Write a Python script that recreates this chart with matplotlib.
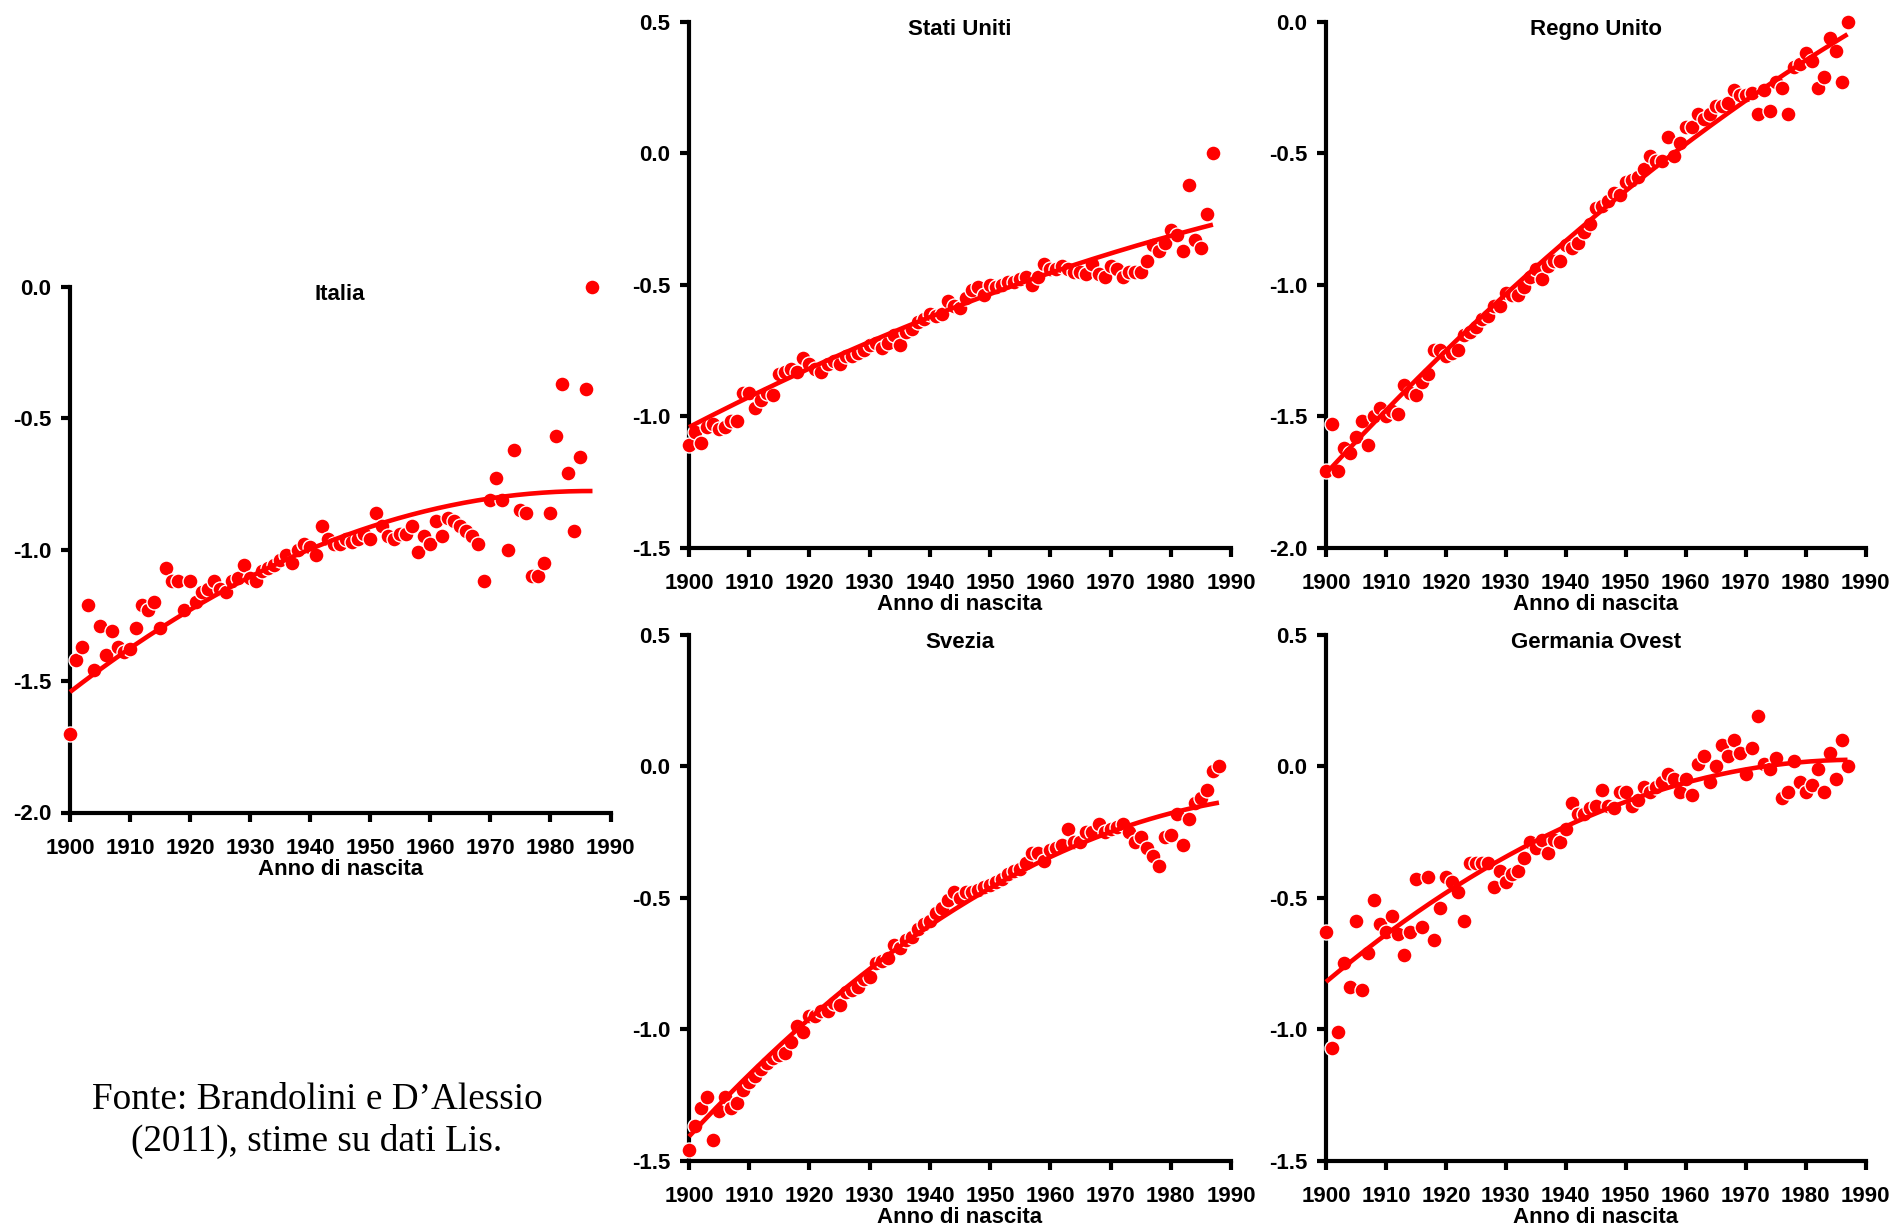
import numpy as np
import matplotlib
matplotlib.use("Agg")
import matplotlib.pyplot as plt
from matplotlib.ticker import FormatStrFormatter

plt.rcParams['font.family'] = ['Liberation Sans', 'DejaVu Sans']
plt.rcParams['font.weight'] = 'bold'
plt.rcParams['axes.unicode_minus'] = False

RED = '#ff0000'

# log-scale cohort estimates, one value per birth year
italia_years = np.arange(1900, 1988)
italia_vals = [
    -1.70, -1.42, -1.37, -1.21, -1.46, -1.29, -1.40, -1.31, -1.37, -1.39,
    -1.38, -1.30, -1.21, -1.23, -1.20, -1.30, -1.07, -1.12, -1.12, -1.23,
    -1.12, -1.20, -1.16, -1.15, -1.12, -1.15, -1.16, -1.12, -1.11, -1.06,
    -1.11, -1.12, -1.08, -1.07, -1.06, -1.04, -1.02, -1.05, -1.00, -0.98,
    -0.99, -1.02, -0.91, -0.96, -0.98, -0.98, -0.96, -0.97, -0.96, -0.94,
    -0.96, -0.86, -0.91, -0.95, -0.96, -0.94, -0.94, -0.91, -1.01, -0.95,
    -0.98, -0.89, -0.95, -0.88, -0.89, -0.91, -0.93, -0.95, -0.98, -1.12,
    -0.81, -0.73, -0.81, -1.00, -0.62, -0.85, -0.86, -1.10, -1.10, -1.05,
    -0.86, -0.57, -0.37, -0.71, -0.93, -0.65, -0.39, 0.00,
]

usa_years = np.arange(1900, 1988)
usa_vals = [
    -1.11, -1.06, -1.10, -1.04, -1.03, -1.05, -1.04, -1.02, -1.02, -0.91,
    -0.91, -0.97, -0.94, -0.91, -0.92, -0.84, -0.83, -0.82, -0.83, -0.78,
    -0.80, -0.82, -0.83, -0.80, -0.79, -0.80, -0.77, -0.77, -0.76, -0.75,
    -0.73, -0.72, -0.74, -0.72, -0.69, -0.73, -0.68, -0.67, -0.64, -0.63,
    -0.61, -0.62, -0.61, -0.56, -0.58, -0.59, -0.55, -0.52, -0.51, -0.54,
    -0.50, -0.51, -0.50, -0.49, -0.49, -0.48, -0.47, -0.50, -0.47, -0.42,
    -0.44, -0.44, -0.43, -0.44, -0.45, -0.45, -0.46, -0.42, -0.46, -0.47,
    -0.43, -0.44, -0.47, -0.45, -0.45, -0.45, -0.41, -0.35, -0.37, -0.34,
    -0.29, -0.31, -0.37, -0.12, -0.33, -0.36, -0.23, 0.00,
]

uk_years = np.arange(1900, 1988)
uk_vals = [
    -1.71, -1.53, -1.71, -1.62, -1.64, -1.58, -1.52, -1.61, -1.50, -1.47,
    -1.50, -1.48, -1.49, -1.38, -1.41, -1.42, -1.37, -1.34, -1.25, -1.25,
    -1.27, -1.26, -1.25, -1.19, -1.18, -1.16, -1.13, -1.12, -1.08, -1.08,
    -1.03, -1.04, -1.04, -1.01, -0.97, -0.94, -0.98, -0.93, -0.91, -0.91,
    -0.85, -0.86, -0.84, -0.80, -0.77, -0.71, -0.70, -0.68, -0.65, -0.66,
    -0.61, -0.60, -0.59, -0.56, -0.51, -0.53, -0.53, -0.44, -0.51, -0.46,
    -0.40, -0.40, -0.35, -0.37, -0.35, -0.32, -0.32, -0.31, -0.26, -0.28,
    -0.28, -0.27, -0.35, -0.26, -0.34, -0.23, -0.25, -0.35, -0.17, -0.16,
    -0.12, -0.15, -0.25, -0.21, -0.06, -0.11, -0.23, 0.00,
]

svezia_years = np.arange(1900, 1989)
svezia_vals = [
    -1.46, -1.37, -1.30, -1.26, -1.42, -1.31, -1.26, -1.30, -1.28, -1.23,
    -1.20, -1.18, -1.15, -1.13, -1.11, -1.10, -1.09, -1.05, -0.99, -1.01,
    -0.95, -0.95, -0.93, -0.93, -0.90, -0.91, -0.86, -0.85, -0.84, -0.81,
    -0.80, -0.75, -0.74, -0.73, -0.68, -0.69, -0.66, -0.65, -0.62, -0.60,
    -0.59, -0.56, -0.54, -0.51, -0.48, -0.50, -0.48, -0.48, -0.47, -0.46,
    -0.45, -0.44, -0.43, -0.41, -0.40, -0.39, -0.37, -0.33, -0.33, -0.36,
    -0.32, -0.31, -0.30, -0.24, -0.29, -0.29, -0.25, -0.25, -0.22, -0.25,
    -0.24, -0.23, -0.22, -0.25, -0.29, -0.27, -0.31, -0.34, -0.38, -0.27,
    -0.26, -0.18, -0.30, -0.20, -0.14, -0.12, -0.09, -0.02, 0.00,
]

germania_years = np.arange(1900, 1988)
germania_vals = [
    -0.63, -1.07, -1.01, -0.75, -0.84, -0.59, -0.85, -0.71, -0.51, -0.60,
    -0.63, -0.57, -0.64, -0.72, -0.63, -0.43, -0.61, -0.42, -0.66, -0.54,
    -0.42, -0.44, -0.48, -0.59, -0.37, -0.37, -0.37, -0.37, -0.46, -0.40,
    -0.44, -0.41, -0.40, -0.35, -0.29, -0.31, -0.28, -0.33, -0.28, -0.29,
    -0.24, -0.14, -0.18, -0.18, -0.16, -0.15, -0.09, -0.15, -0.16, -0.10,
    -0.10, -0.15, -0.13, -0.08, -0.10, -0.08, -0.06, -0.03, -0.05, -0.10,
    -0.05, -0.11, 0.01, 0.04, -0.06, 0.00, 0.08, 0.04, 0.10, 0.05,
    -0.03, 0.07, 0.19, 0.01, -0.01, 0.03, -0.12, -0.10, 0.02, -0.06,
    -0.10, -0.07, -0.01, -0.10, 0.05, -0.05, 0.10, 0.00,
]

# fitted trend, sampled once per decade and at the last cohort
italia_trend_years = [1900, 1910, 1920, 1930, 1940, 1950, 1960, 1970, 1980, 1987]
italia_trend = [-1.55, -1.375, -1.22, -1.095, -0.997, -0.918, -0.861, -0.81, -0.782, -0.77]

usa_trend_years = [1900, 1910, 1920, 1930, 1940, 1950, 1960, 1970, 1980, 1987]
usa_trend = [-1.05, -0.92, -0.81, -0.717, -0.627, -0.537, -0.454, -0.386, -0.316, -0.266]

uk_trend_years = [1900, 1910, 1920, 1930, 1940, 1950, 1960, 1970, 1980, 1987]
uk_trend = [-1.70, -1.49, -1.263, -1.042, -0.835, -0.632, -0.459, -0.293, -0.143, -0.06]

svezia_trend_years = [1900, 1910, 1920, 1930, 1940, 1950, 1960, 1970, 1980, 1988]
svezia_trend = [-1.40, -1.18, -0.966, -0.776, -0.60, -0.458, -0.339, -0.257, -0.182, -0.137]

germania_trend_years = [1900, 1910, 1920, 1930, 1940, 1950, 1960, 1970, 1980, 1987]
germania_trend = [-0.819, -0.647, -0.475, -0.34, -0.235, -0.138, -0.063, -0.010, 0.019, 0.022]

W, H = 1896, 1226
fig = plt.figure(figsize=(W / 100, H / 100), dpi=100)


def make_axes(left, right, top, bottom):
    return fig.add_axes([left / W, 1 - bottom / H, (right - left) / W, (bottom - top) / H])


def draw_panel(ax, years, vals, trend_years, trend, title, ylim):
    ax.plot(years, vals, 'o', color=RED, markersize=10.8, markeredgecolor='white',
            markeredgewidth=1.0, clip_on=False, zorder=3)
    # smooth quadratic through the trend samples
    coef = np.polyfit(trend_years, trend, 2)
    xs = np.linspace(trend_years[0], trend_years[-1], 200)
    ax.plot(xs, np.polyval(coef, xs), color=RED, lw=3.3, clip_on=False, zorder=4,
            solid_capstyle='butt')

    ax.set_xlim(1900, 1990)
    ax.set_ylim(*ylim)
    ax.set_xticks(np.arange(1900, 1991, 10))
    ax.set_yticks(np.arange(ylim[0], ylim[1] + 0.01, 0.5))
    ax.yaxis.set_major_formatter(FormatStrFormatter('%.1f'))
    for side in ('top', 'right'):
        ax.spines[side].set_visible(False)
    for side in ('left', 'bottom'):
        ax.spines[side].set_linewidth(3.0)
    ax.tick_params(direction='out', width=3.0, length=6.5, labelsize=16)
    ax.tick_params(axis='x', pad=12)
    ax.tick_params(axis='y', pad=7)
    ax.set_xlabel('Anno di nascita', fontsize=16, fontweight='bold', labelpad=0)
    ax.text(0.5, 0.985, title, transform=ax.transAxes, ha='center', va='center',
            fontsize=16, fontweight='bold')
    ax.patch.set_visible(False)


ax_it = make_axes(70, 610.5, 286.5, 812.5)
ax_us = make_axes(689, 1231, 21.8, 547.7)
ax_uk = make_axes(1326, 1865.5, 21.8, 547.7)
ax_se = make_axes(689, 1231, 634.7, 1160.6)
ax_de = make_axes(1326, 1865.5, 634.7, 1160.6)

draw_panel(ax_it, italia_years, italia_vals, italia_trend_years, italia_trend,
           'Italia', (-2.0, 0.0))
draw_panel(ax_us, usa_years, usa_vals, usa_trend_years, usa_trend,
           'Stati Uniti', (-1.5, 0.5))
draw_panel(ax_uk, uk_years, uk_vals, uk_trend_years, uk_trend,
           'Regno Unito', (-2.0, 0.0))
draw_panel(ax_se, svezia_years, svezia_vals, svezia_trend_years, svezia_trend,
           'Svezia', (-1.5, 0.5))
draw_panel(ax_de, germania_years, germania_vals, germania_trend_years, germania_trend,
           'Germania Ovest', (-1.5, 0.5))

fig.text(317 / W, 1 - 1121 / H, 'Fonte: Brandolini e D\u2019Alessio\n(2011), stime su dati Lis.',
         ha='center', va='center', fontsize=26.8, fontweight='normal',
         family=['Liberation Serif', 'DejaVu Serif'], linespacing=1.27)

fig.savefig('out.png', dpi=100)
